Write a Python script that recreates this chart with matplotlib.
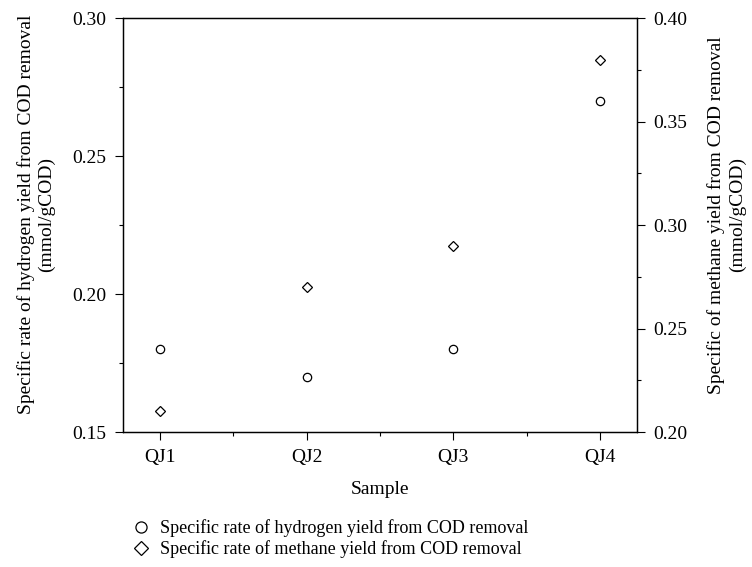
import matplotlib
matplotlib.use('Agg')
import matplotlib.pyplot as plt
from matplotlib.ticker import MultipleLocator, FormatStrFormatter
from matplotlib.lines import Line2D

plt.rcParams['font.family'] = ['Liberation Serif', 'DejaVu Serif']
plt.rcParams['font.size'] = 14

samples = ['QJ1', 'QJ2', 'QJ3', 'QJ4']
hydrogen = [0.18, 0.17, 0.18, 0.27]   # left axis
methane = [0.21, 0.27, 0.29, 0.38]    # right axis

fig = plt.figure(figsize=(7.52, 5.67), dpi=100)
ax = fig.add_axes([0.1636, 0.238, 0.6834, 0.730])
x = list(range(len(samples)))

ax.plot(x, hydrogen, linestyle='none', marker='o', ms=6, mfc='white', mec='black', mew=0.9)
ax.set_xlim(-0.25, 3.25)
ax.set_ylim(0.15, 0.30)
ax.set_xticks(x)
ax.set_xticklabels(samples)
ax.xaxis.set_minor_locator(MultipleLocator(0.5))
ax.yaxis.set_major_locator(MultipleLocator(0.05))
ax.yaxis.set_minor_locator(MultipleLocator(0.025))
ax.yaxis.set_major_formatter(FormatStrFormatter('%.2f'))
ax.set_xlabel('Sample', labelpad=11)
ax.set_ylabel('Specific rate of hydrogen yield from COD removal\n(mmol/gCOD)', labelpad=12,
              linespacing=1.25)
ax.yaxis.label.set_y(0.525)

ax2 = ax.twinx()
ax2.plot(x, methane, linestyle='none', marker='D', ms=5.5, mfc='white', mec='black', mew=0.9)
ax2.set_ylim(0.20, 0.40)
ax2.yaxis.set_major_locator(MultipleLocator(0.05))
ax2.yaxis.set_minor_locator(MultipleLocator(0.025))
ax2.yaxis.set_major_formatter(FormatStrFormatter('%.2f'))
ax2.set_ylabel('Specific of methane yield from COD removal\n(mmol/gCOD)', labelpad=14,
               linespacing=1.25)
ax2.yaxis.label.set_y(0.525)

for a in (ax, ax2):
    a.tick_params(which='both', direction='out', width=0.8, labelsize=14, pad=6)
    a.tick_params(which='major', length=6)
    a.tick_params(which='minor', length=3)
    for s in a.spines.values():
        s.set_linewidth(0.9)
ax.xaxis.set_ticks_position('bottom')
ax.tick_params(axis='x', pad=6)

handles = [
    Line2D([], [], linestyle='none', marker='o', ms=8, mfc='white', mec='black', mew=0.9),
    Line2D([], [], linestyle='none', marker='D', ms=7, mfc='white', mec='black', mew=0.9),
]
labels = ['Specific rate of hydrogen yield from COD removal',
          'Specific rate of methane yield from COD removal']
fig.legend(handles, labels, loc='upper left', bbox_to_anchor=(0.175, 0.084),
           frameon=False, handlelength=1.0, handletextpad=0.6, labelspacing=0.15,
           borderaxespad=0, borderpad=0, fontsize=13)

fig.savefig('out.png', dpi=100)
